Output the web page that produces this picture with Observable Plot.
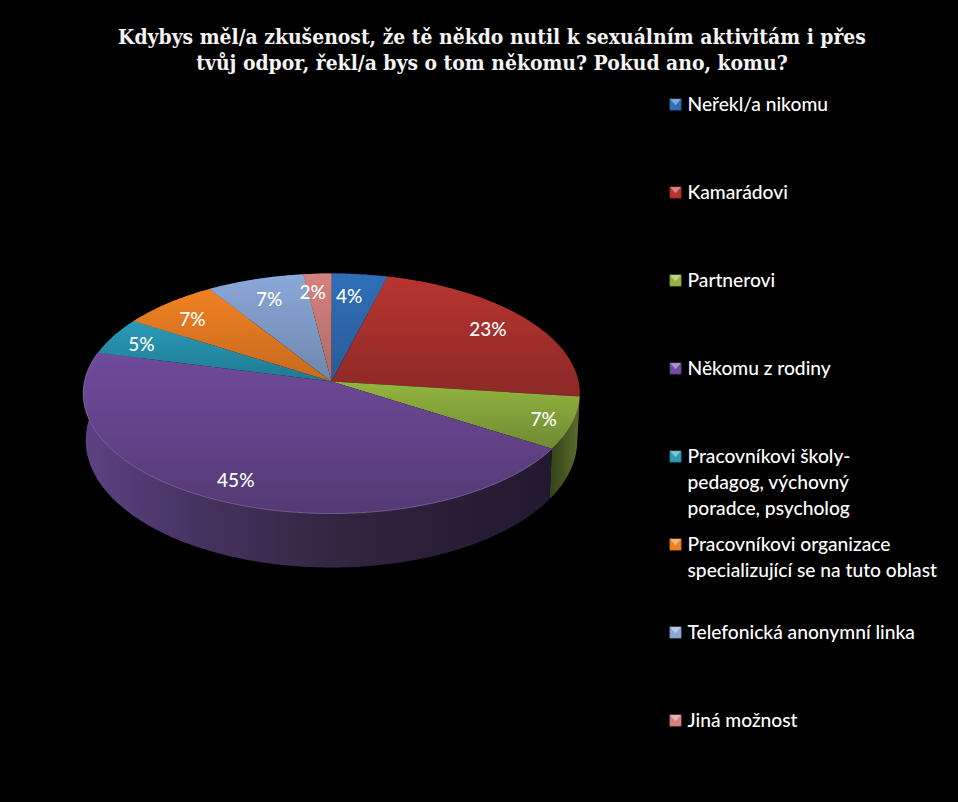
<!DOCTYPE html>
<html lang="cs">
<head>
<meta charset="utf-8">
<script src="https://cdn.jsdelivr.net/npm/d3@7"></script>
<script src="https://cdn.jsdelivr.net/npm/@observablehq/plot@0.6"></script>
<style>
  html, body { margin: 0; padding: 0; background: #000; }
  #title { height: 85px; box-sizing: border-box; padding: 24px 0 0 26px; color: #f4f4f4; text-align: center;
    font: bold 20.9px/26px "DejaVu Serif Condensed", "DejaVu Serif", serif; white-space: nowrap; }
  svg { display: block; }
</style>
</head>
<body>
<div id="title">Kdybys měl/a zkušenost, že tě někdo nutil k sexuálním aktivitám i přes<br>tvůj odpor, řekl/a bys o tom někomu? Pokud ano, komu?</div>
<div id="chart"></div>
<script>
const categories = ["Neřekl/a nikomu", "Kamarádovi", "Partnerovi", "Někomu z rodiny",
  "Pracovníkovi školy-\npedagog, výchovný\nporadce, psycholog",
  "Pracovníkovi organizace\nspecializující se na tuto oblast",
  "Telefonická anonymní linka", "Jiná možnost"];
const values = [4, 23, 7, 45, 5, 7, 7, 2];
const topColors = ["#2f6fb8", "#b8342f", "#93b53f", "#714a9c", "#2a9ab8", "#f08122", "#8aa8d8", "#d4827e"];
const bottomColors = ["#2a5a98", "#8c2927", "#6f8a33", "#533a74", "#1f7a92", "#c56a1e", "#6d88ae", "#ae6a66"];
const wallStops = [["#1c3c66", "#16304f"], ["#5a1a18", "#4a1614"], ["#55682a", "#36461a"], ["#5c4284", "#1f1629"],
  ["#14505f", "#14505f"], ["#7d4412", "#7d4412"], ["#47597a", "#47597a"], ["#754644", "#754644"]];
const labelNudge = [[-6, 5], [-6, 2], [10, 3], [-5, -1], [-7, 2], [-2, 4], [2, 4], [-7, 2]];

// Pie projection constants
const cx = 331, cy = 381, R = 247, S = 118.8, k = 0.1, labelFraction = 0.84;
const rad = Math.PI / 180;
const topPoint = (deg, f = 1) => {
  const a = deg * rad, w = 1 + k * Math.cos(a);
  return {x: cx + f * R * Math.sin(a) / w, y: cy - f * S * Math.cos(a) / w};
};
const bottomPoint = (deg) => {
  const p = topPoint(deg), a = deg * rad;
  return {x: cx + (p.x - cx) * 0.99, y: p.y + 46 - 8 * Math.cos(a)};
};
const arcs = d3.pie().sort(null).startAngle(0).endAngle(2 * Math.PI)(values)
  .map((d, i) => ({i, from: d.startAngle / rad, to: d.endAngle / rad, value: d.value}));
const sweep = (d, fn) => d3.range(0, 1.0001, 1 / Math.max(2, Math.ceil(d.to - d.from))).map(t => fn(d.from + (d.to - d.from) * t));
const slice = d => [{x: cx, y: cy}, ...sweep(d, topPoint)];
const wall = d => [...sweep(d, topPoint), ...sweep(d, bottomPoint).reverse()];
const labels = arcs.map(d => {
  const p = topPoint((d.from + d.to) / 2, labelFraction);
  return {x: p.x + labelNudge[d.i][0], y: p.y + labelNudge[d.i][1], text: d.value + "%"};
});
const legend = categories.map((name, i) => ({name, i, y: 104 + 88 * i}));
const tri = {draw(c, size) { const r = Math.sqrt(size) / 2; c.moveTo(-r, -r); c.lineTo(r, -r); c.lineTo(0, r * 0.15); c.closePath(); }};

const xy = {x: "x", y: "y"};
const plot = Plot.plot({
  width: 958, height: 717, margin: 0,
  style: {background: "#000"},
  x: {domain: [0, 958], range: [0, 958], axis: null},
  y: {domain: [85, 802], range: [0, 717], axis: null},
  marks: [
    ...arcs.map(d => Plot.line(wall(d), {...xy, fill: `url(#wall${d.i})`, stroke: "none"})),
    ...arcs.map(d => Plot.line(slice(d), {...xy, fill: `url(#top${d.i})`, stroke: "none"})),
    ...arcs.filter(d => d.i === 3).map(d => Plot.line(sweep(d, topPoint), {...xy, stroke: "#8a74ad", strokeWidth: 1, strokeOpacity: 0.7})),
    Plot.text(labels, {...xy, text: "text", fill: "#fff", fontSize: 19, fontFamily: "Lato", fontWeight: 500}),
    Plot.dot(legend, {x: () => 675, y: "y", symbol: "square", r: 6.4, fill: d => topColors[d.i], stroke: d => bottomColors[d.i], strokeWidth: 0.5}),
    Plot.dot(legend, {x: () => 675, y: d => d.y, symbol: tri, r: 6.2, fill: "#ffffff", fillOpacity: 0.4}),
    Plot.text(legend, {x: () => 687, y: d => d.y - 12, text: "name", textAnchor: "start", lineAnchor: "top", lineHeight: 1.355, fill: "#fff", fontSize: 19.2, fontFamily: "Lato", fontWeight: 500})
  ]
});
const defs = d3.select(plot).insert("defs", ":first-child");
topColors.forEach((c, i) => {
  const g = defs.append("linearGradient").attr("id", "top" + i).attr("x1", 0).attr("y1", 0).attr("x2", 0).attr("y2", 1);
  g.append("stop").attr("offset", 0).attr("stop-color", c);
  g.append("stop").attr("offset", 1).attr("stop-color", bottomColors[i]);
  const w = defs.append("linearGradient").attr("id", "wall" + i).attr("gradientUnits", "userSpaceOnUse")
    .attr("x1", i === 2 ? 575 : 85).attr("y1", 0).attr("x2", 552).attr("y2", 0);
  if (i === 3) {
    w.append("stop").attr("offset", 0).attr("stop-color", "#5c4284");
    w.append("stop").attr("offset", 0.25).attr("stop-color", "#45325f");
    w.append("stop").attr("offset", 0.55).attr("stop-color", "#32253f");
    w.append("stop").attr("offset", 1).attr("stop-color", "#221830");
  } else {
    w.append("stop").attr("offset", 0).attr("stop-color", wallStops[i][0]);
    w.append("stop").attr("offset", 1).attr("stop-color", wallStops[i][1]);
  }
});
document.getElementById("chart").append(plot);
</script>
</body>
</html>
